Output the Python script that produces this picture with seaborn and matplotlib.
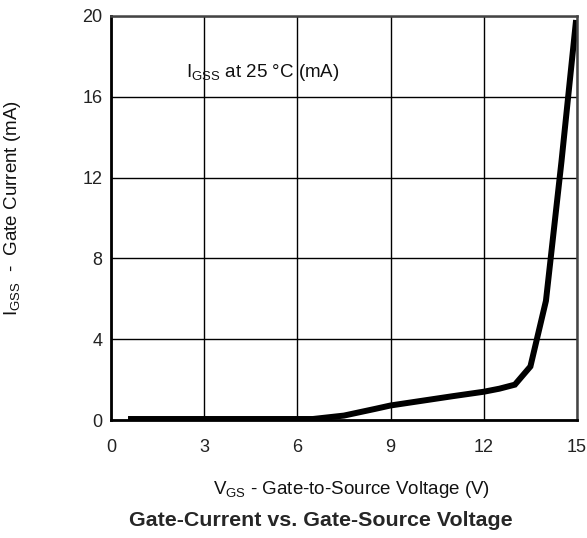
import matplotlib
matplotlib.use("Agg")
import matplotlib.pyplot as plt
import seaborn as sns
import pandas as pd

# =========================
# DATA
# =========================

vgs = [0.55, 2.0, 4.0, 6.0, 6.5, 7.5, 8.5, 9.0, 10.0, 11.0, 12.0, 12.5, 13.0, 13.5, 14.0, 14.5, 14.97]
igss = [0.05, 0.05, 0.05, 0.05, 0.05, 0.22, 0.55, 0.72, 0.95, 1.18, 1.4, 1.55, 1.75, 2.65, 5.9, 12.8, 19.8]

x_ticks = [0, 3, 6, 9, 12, 15]
y_ticks = [0, 4, 8, 12, 16, 20]

df = pd.DataFrame({"vgs": vgs, "igss": igss})

# =========================
# STYLE
# =========================

sns.set_style("white")
plt.rcParams["font.family"] = ["Liberation Sans", "DejaVu Sans"]
plt.rcParams["mathtext.fontset"] = "custom"
plt.rcParams["mathtext.rm"] = "Liberation Sans"

fig = plt.figure(figsize=(5.87, 5.38), dpi=100)
ax = fig.add_axes([0.189, 0.2193, 0.794, 0.751])

sns.lineplot(data=df, x="vgs", y="igss", ax=ax, color="black",
             linewidth=4.3, solid_joinstyle="miter", solid_capstyle="butt")

ax.set_xlim(0, 15)
ax.set_ylim(0, 20)
ax.set_xticks(x_ticks)
ax.set_yticks(y_ticks)
ax.tick_params(axis="x", length=0, labelsize=13, pad=14, colors="#222222")
ax.tick_params(axis="y", length=0, labelsize=13, pad=6, colors="#222222")
ax.grid(True, color="black", linewidth=1.0)
ax.set_axisbelow(True)

for side in ["left", "bottom"]:
    ax.spines[side].set_color("black")
    ax.spines[side].set_linewidth(2.0)
for side in ["top", "right"]:
    ax.spines[side].set_color("#444444")
    ax.spines[side].set_linewidth(1.8)

ax.text(2.4, 17.2, r"I$_\mathregular{GSS}$ at 25 °C (mA)", fontsize=13.5,
        va="center", ha="left", color="#111111")

# axis labels, placed in axes coordinates
ax.set_xlabel(r"V$_\mathregular{GS}$ - Gate-to-Source Voltage (V)",
              fontsize=13.5, color="#111111")
ax.xaxis.set_label_coords((351 - 111) / 466, -(489 - 420) / 404)
ax.xaxis.label.set_va("center")

ax.set_ylabel(r"I$_\mathregular{GSS}$  -  Gate Current (mA)",
              fontsize=13.5, color="#111111")
ax.yaxis.set_label_coords(-(111 - 13) / 466, (420 - 208) / 404)
ax.yaxis.label.set_va("center")

fig.text(321 / 587, 1 - 521 / 538,
         "Gate-Current vs. Gate-Source Voltage",
         fontsize=15.4, fontweight="bold", ha="center", va="center")

plt.savefig("out.png", dpi=100)
plt.close()
